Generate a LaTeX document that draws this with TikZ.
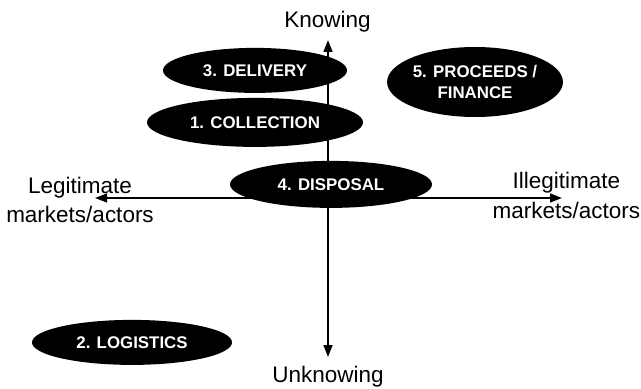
\documentclass[tikz,border=0pt]{standalone}
\usepackage{fontspec}
\setmainfont{Liberation Sans}
\usetikzlibrary{shapes.geometric,arrows.meta}

\begin{document}
\begin{tikzpicture}[
        scale=1,
        thick,
        font=\fontsize{16}{21}\selectfont
    ]
    \tikzset{
        phase/.style = {ellipse, fill=black, text=white, inner sep=0pt, align=center,
                        font=\fontsize{12}{14.5}\selectfont\bfseries},
        axislabel/.style = {align=center, inner sep=0pt},
        axisline/.style = {{Triangle[length=0.3cm,width=0.22cm]}-{Triangle[length=0.3cm,width=0.22cm]},
                        line width=1.4pt, black},
    }
    \useasboundingbox (0,0) rectangle (16.025,9.7);
    % axis ends
    \coordinate (top) at (8.2,8.7);
    \coordinate (bottom) at (8.2,0.775);
    \coordinate (left) at (2.375,4.75);
    \coordinate (right) at (14.05,4.75);
    %
    \draw[axisline] (bottom) -- (top);
    \draw[axisline] (left) -- (right);
    %
    \node[axislabel, anchor=base] at (8.19,9.0) (knowing) {Knowing};
    \node[axislabel, anchor=base] at (8.2,0.14) (unknowing) {Unknowing};
    \node[axislabel] at (2.0,4.7) (legit) {Legitimate\\markets/actors};
    \node[axislabel] at (14.16,4.81) (illegit) {Illegitimate\\markets/actors};
    %
    \node[phase, minimum width=4.6cm, minimum height=1.125cm] at (6.375,7.94) (delivery) {3. DELIVERY};
    \node[phase, minimum width=5.4cm, minimum height=1.225cm] at (6.375,6.64) (collection) {1. COLLECTION};
    \node[phase, minimum width=4.2cm, minimum height=1.75cm] at (11.875,7.65) (proceeds) {5. PROCEEDS /\\FINANCE};
    \node[phase, minimum width=5.05cm, minimum height=1.175cm] at (8.275,5.09) (disposal) {4. DISPOSAL};
    \node[phase, minimum width=5.0cm, minimum height=1.125cm] at (3.3,1.14) (logistics) {2. LOGISTICS};
\end{tikzpicture}
\end{document}
